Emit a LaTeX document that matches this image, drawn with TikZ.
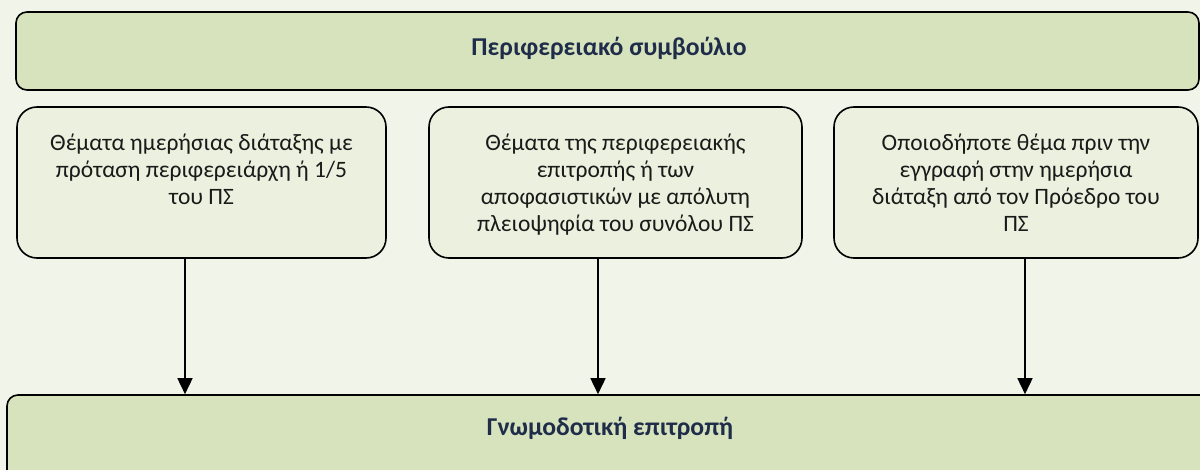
\documentclass[tikz,border=0pt]{standalone}
\usepackage{fontspec}
\setmainfont{Carlito}
\usetikzlibrary{arrows.meta}
\definecolor{bgc}{HTML}{F1F4E8}
\definecolor{bigc}{HTML}{D7E3BC}
\definecolor{smallc}{HTML}{EBF1DE}
\definecolor{navy}{HTML}{1F2D4A}
\definecolor{txt}{HTML}{1A1A1A}
\tikzset{
  bigbox/.style={draw=black, line width=1.6pt, fill=bigc, rounded corners=11pt, inner sep=0pt},
  smallbox/.style={draw=black, line width=1.6pt, fill=smallc, rounded corners=20pt, inner sep=0pt, text=txt, font=\fontsize{23.5}{27}\selectfont},
  title/.style={font=\fontsize{25.7}{30}\selectfont\bfseries, text=navy},
  arr/.style={line width=1.6pt, -{Triangle[width=15pt,length=16pt]}}
}
\newcommand{\boxtext}[2]{\parbox[c][151pt][t]{#1}{\centering\vspace*{24.5pt}\strut #2\par}}
\begin{document}
\begin{tikzpicture}[x=1pt,y=-1pt]
\fill[bgc] (0,0) rectangle (1200,470);
\useasboundingbox (0,0) rectangle (1200,470);
\clip (0,0) rectangle (1200,470);
\node[bigbox, minimum width=1183pt, minimum height=78pt] (T) at (607.5,51) {};
\node[title] (TT) at (609,48) {Περιφερειακό συμβούλιο};
\node[smallbox, minimum width=369pt] (L) at (201.5,182.5) {\boxtext{365pt}{Θέματα ημερήσιας διάταξης με\\ πρόταση περιφερειάρχη ή 1/5\\ του ΠΣ}};
\node[smallbox, minimum width=373pt] (M) at (615.5,182.5) {\boxtext{369pt}{Θέματα της περιφερειακής\\ επιτροπής ή των\\ αποφασιστικών με απόλυτη\\ πλειοψηφία του συνόλου ΠΣ}};
\node[smallbox, minimum width=364pt] (R) at (1016,182.5) {\boxtext{360pt}{Οποιοδήποτε θέμα πριν την\\ εγγραφή στην ημερήσια\\ διάταξη από τον Πρόεδρο του\\ ΠΣ}};
\node[bigbox, minimum width=1212pt, minimum height=110pt] (B) at (613,450) {};
\node[title] (BT) at (610,428) {Γνωμοδοτική επιτροπή};
\draw[arr] ([xshift=-16.5pt]L.south) -- ([xshift=-16.5pt]L.south |- B.north);
\draw[arr] ([xshift=-17.5pt]M.south) -- ([xshift=-17.5pt]M.south |- B.north);
\draw[arr] ([xshift=9pt]R.south) -- ([xshift=9pt]R.south |- B.north);
\end{tikzpicture}
\end{document}
